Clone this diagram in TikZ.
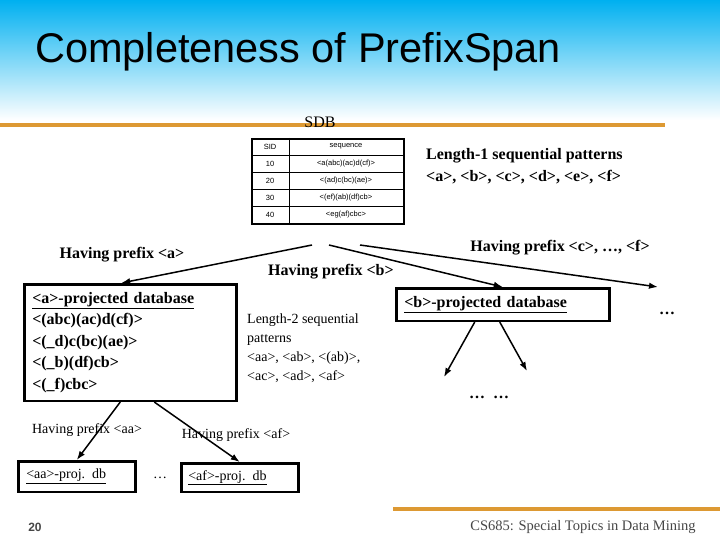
\documentclass[tikz,border=0pt]{standalone}
\usepackage{fontspec}
\setmainfont{Liberation Serif}
\newfontfamily\titlefont{Liberation Sans}
\usetikzlibrary{positioning,arrows.meta}

\definecolor{skyblue}{RGB}{0,176,240}
\definecolor{rulegold}{RGB}{221,153,51}
\definecolor{footgray}{RGB}{70,70,70}

\tikzset{
  dbbox/.style={draw, line width=2.5pt, align=left, anchor=north west},
  flow/.style={->, line width=1.5pt},
  boldlbl/.style={font=\fontsize{16}{21.5}\selectfont\bfseries},
  thinlbl/.style={font=\fontsize{14}{19}\selectfont},
  tabtxt/.style={font=\titlefont\fontsize{7.5}{9}\selectfont},
}

\begin{document}
\begin{tikzpicture}[>={Latex[length=9pt,width=6.5pt]}, x=1pt, y=-1pt]
	\useasboundingbox (0,0) rectangle (720,540);

	% Фон и линии
	\shade[top color=skyblue, bottom color=white] (0,0) rectangle (720,120);
	\draw[rulegold, line width=4pt] (0,125) -- (665,125);
	\draw[rulegold, line width=4pt] (393,509) -- (720,509);

	% Заголовок
	\node[anchor=base west, inner sep=0, font=\titlefont\fontsize{41.5}{41.5}\selectfont] (title) at (35,63) {Completeness of PrefixSpan};

	% Таблица SDB
	\node[font=\fontsize{16}{16}\selectfont] (sdbname) at (320,122) {SDB};
	\node[draw, line width=2pt, minimum width=152, minimum height=85, anchor=north west, inner sep=0] (sdb) at (251,138) {};
	\foreach \r in {1,...,4}
		\draw[line width=0.8pt] (251,138+17*\r) -- (403,138+17*\r);
	\draw[line width=0.8pt] (289,138) -- (289,223);
	\foreach \sid/\sq [count=\r] in {SID/sequence, 10/{<a(abc)(ac)d(cf)>}, 20/{<(ad)c(bc)(ae)>}, 30/{<(ef)(ab)(df)cb>}, 40/{<eg(af)cbc>}} {
			\node[tabtxt] (sid\r) at (270,138+17*\r-8.5) {\sid};
			\node[tabtxt] (seq\r) at (346,138+17*\r-8.5) {\sq};
		}

	% Образцы длины 1
	\node[boldlbl, anchor=west, align=left, inner sep=0] (len1) at (426,166) {Length-1 sequential patterns\\ <a>, <b>, <c>, <d>, <e>, <f>};

	% Ветви от SDB
	\coordinate (forka) at (312,245);
	\coordinate (forkb) at (329,245);
	\coordinate (forkc) at (360,245);
	\coordinate (rest) at (658,287);

	\node[boldlbl] (hpa) at (122,255) {Having prefix <a>};
	\node[boldlbl] (hpb) at (331,272) {Having prefix <b>};
	\node[boldlbl] (hpc) at (560,248) {Having prefix <c>, …, <f>};

	% Проекции
	\node[dbbox, boldlbl, inner sep=8pt, text width=196, minimum height=115] (adb) at (23,283)
		{\underline{<a>-projected database}\\ <(abc)(ac)d(cf)>\\ <(\_d)c(bc)(ae)>\\ <(\_b)(df)cb>\\ <(\_f)cbc>};
	\node[dbbox, boldlbl, inner sep=8pt, text width=197, minimum height=32] (bdb) at (395,287)
		{\underline{<b>-projected database}};
	\node[boldlbl] (dotsr) at (667,313) {…};

	\draw[flow] (forka) -- ([xshift=-9]adb.north);
	\draw[flow] (forkb) -- (bdb.north);
	\draw[flow] (forkc) -- (rest);

	% Образцы длины 2
	\node[thinlbl, anchor=west, align=left, inner sep=0] (len2) at (247,348)
		{Length-2 sequential\\ patterns\\ <aa>, <ab>, <(ab)>,\\ <ac>, <ad>, <af>};

	% Ветви от <b>
	\coordinate (bl) at (444,377);
	\coordinate (br) at (527,371);
	\draw[flow] ([xshift=-28]bdb.south) -- (bl);
	\draw[flow] ([xshift=-3]bdb.south) -- (br);
	\node[boldlbl] (dotsb) at (489,397) {…\ \ …};

	% Ветви от <a>
	\node[thinlbl] (hpaa) at (87,430) {Having prefix <aa>};
	\node[thinlbl] (hpaf) at (236,435) {Having prefix <af>};
	\node[dbbox, thinlbl, inner sep=8pt, text width=101, minimum height=28] (aadb) at (17,460) {\underline{<aa>-proj. db}};
	\node[dbbox, thinlbl, inner sep=7pt, text width=103, minimum height=27] (afdb) at (180,462) {\underline{<af>-proj. db}};
	\node[thinlbl] (dotsa) at (160,478) {…};
	\draw[flow] ([xshift=-10]adb.south) -- (aadb.north);
	\draw[flow] ([xshift=24]adb.south) -- (afdb.north);

	% Нижний колонтитул
	\node[font=\titlefont\bfseries\fontsize{12}{12}\selectfont, text=footgray] (pagenum) at (35,527) {20};
	\node[font=\fontsize{14.5}{14.5}\selectfont, text=footgray] (course) at (583,527) {CS685: Special Topics in Data Mining};
\end{tikzpicture}
\end{document}
